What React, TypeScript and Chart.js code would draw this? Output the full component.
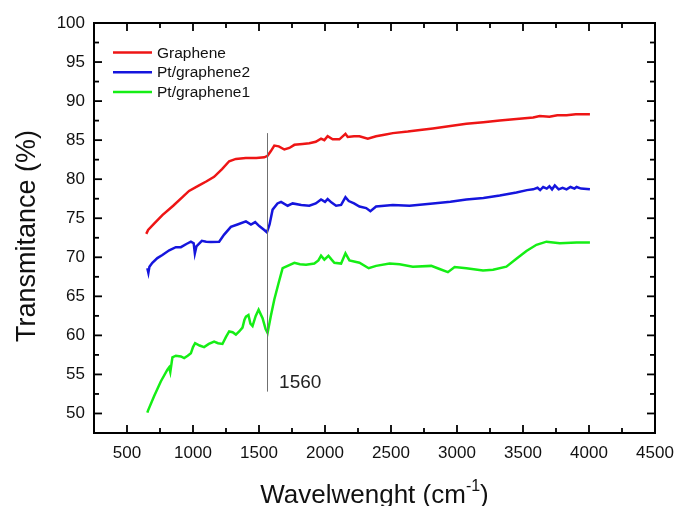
import React, { useEffect, useRef } from "react";
import { Chart, registerables } from "chart.js";

Chart.register(...registerables);

const FONT = '"Liberation Sans", Arial, sans-serif';

const SERIES_LABELS = ["Graphene", "Pt/graphene2", "Pt/graphene1"];
const SERIES_COLORS = ["#ee1515", "#1515dd", "#15ee15"];

const GRAPHENE_X = [646, 660, 700, 768, 850, 920, 970, 1046, 1100, 1160, 1220, 1274, 1325, 1400, 1480, 1540, 1565, 1590, 1616, 1650, 1692, 1730, 1768, 1830, 1881, 1930, 1970, 1995, 2020, 2058, 2109, 2155, 2172, 2220, 2261, 2324, 2387, 2450, 2514, 2627, 2720, 2817, 2950, 3071, 3200, 3324, 3450, 3577, 3627, 3700, 3760, 3830, 3900, 4007];
const GRAPHENE_Y = [73.0, 73.5, 74.2, 75.4, 76.6, 77.7, 78.5, 79.2, 79.7, 80.3, 81.3, 82.3, 82.6, 82.7, 82.7, 82.8, 83.0, 83.6, 84.3, 84.2, 83.8, 84.0, 84.4, 84.5, 84.6, 84.8, 85.2, 85.0, 85.5, 85.1, 85.1, 85.8, 85.4, 85.5, 85.5, 85.2, 85.5, 85.7, 85.9, 86.1, 86.3, 86.5, 86.8, 87.1, 87.3, 87.5, 87.7, 87.9, 88.1, 88.0, 88.2, 88.2, 88.3, 88.3];

const PT2_X = [654, 662, 670, 692, 730, 768, 820, 870, 908, 950, 984, 1005, 1014, 1026, 1067, 1100, 1135, 1198, 1236, 1287, 1337, 1401, 1439, 1471, 1502, 1540, 1560, 1580, 1603, 1640, 1667, 1717, 1755, 1820, 1881, 1930, 1970, 2000, 2020, 2050, 2084, 2122, 2155, 2180, 2220, 2261, 2312, 2344, 2387, 2450, 2514, 2640, 2817, 2950, 3071, 3200, 3324, 3450, 3530, 3577, 3610, 3630, 3653, 3680, 3700, 3720, 3741, 3770, 3800, 3830, 3860, 3890, 3906, 3940, 4007];
const PT2_Y = [68.6, 68.0, 68.8, 69.3, 69.9, 70.3, 70.9, 71.3, 71.3, 71.7, 72.0, 71.8, 70.5, 71.4, 72.1, 72.0, 71.95, 72.0, 72.9, 73.9, 74.2, 74.6, 74.2, 74.5, 74.0, 73.5, 73.2, 74.2, 76.1, 76.9, 77.1, 76.6, 76.9, 76.7, 76.6, 76.9, 77.4, 77.1, 77.45, 77.0, 76.6, 76.7, 77.7, 77.2, 76.9, 76.5, 76.3, 75.9, 76.5, 76.6, 76.7, 76.6, 76.9, 77.1, 77.4, 77.6, 77.9, 78.3, 78.6, 78.7, 78.9, 78.6, 79.0, 78.8, 79.1, 78.7, 79.2, 78.7, 78.9, 78.7, 79.0, 78.8, 79.0, 78.8, 78.7];

const PT1_X = [654, 660, 705, 756, 806, 819, 828, 844, 870, 908, 933, 960, 984, 1000, 1016, 1050, 1084, 1120, 1160, 1190, 1223, 1250, 1274, 1300, 1325, 1350, 1375, 1390, 1401, 1420, 1435, 1451, 1475, 1497, 1527, 1550, 1565, 1590, 1616, 1650, 1679, 1717, 1768, 1810, 1856, 1919, 1950, 1970, 1995, 2026, 2050, 2071, 2122, 2155, 2185, 2261, 2331, 2387, 2489, 2565, 2665, 2805, 2868, 2931, 2982, 3071, 3197, 3273, 3374, 3450, 3526, 3602, 3678, 3779, 3906, 4007];
const PT1_Y = [50.1, 50.4, 52.2, 54.1, 55.6, 55.9, 55.3, 57.2, 57.4, 57.3, 57.1, 57.4, 57.7, 58.5, 59.0, 58.7, 58.5, 58.9, 59.2, 59.0, 58.9, 59.8, 60.5, 60.4, 60.1, 60.5, 61.0, 62.0, 62.4, 62.6, 61.5, 61.2, 62.5, 63.3, 62.2, 60.8, 60.3, 62.5, 64.6, 66.8, 68.6, 68.9, 69.3, 69.1, 69.05, 69.2, 69.6, 70.2, 69.7, 70.2, 69.7, 69.3, 69.2, 70.5, 69.6, 69.3, 68.6, 68.9, 69.2, 69.1, 68.8, 68.9, 68.5, 68.1, 68.75, 68.6, 68.3, 68.4, 68.8, 69.8, 70.8, 71.6, 72.0, 71.8, 71.9, 71.9];

const X_MIN = 250;
const X_MAX = 4500;
const Y_MIN = 47.5;
const Y_MAX = 100;
const X_TICKS = [500, 1000, 1500, 2000, 2500, 3000, 3500, 4000, 4500];
const X_MINOR = [750, 1250, 1750, 2250, 2750, 3250, 3750, 4250];
const Y_TICKS = [50, 55, 60, 65, 70, 75, 80, 85, 90, 95, 100];
const Y_MINOR = [52.5, 57.5, 62.5, 67.5, 72.5, 77.5, 82.5, 87.5, 92.5, 97.5];

const MARKER_X = 1560;
const MARKER_Y_TOP = 85.9;
const MARKER_Y_BOTTOM = 52.8;
const MARKER_LABEL = "1560";
const MARKER_LABEL_X = 1652;
const MARKER_LABEL_Y = 53.3;

const X_TITLE = "Wavelwenght (cm";
const X_TITLE_SUP = "-1";
const X_TITLE_END = ")";
const Y_TITLE = "Transmitance (%)";

function toPoints(xs: number[], ys: number[]) {
  return xs.map((x, i) => ({ x, y: ys[i] }));
}

const decorPlugin = {
  id: "decor",
  afterDatasetsDraw(chart: any) {
    const { ctx, scales } = chart;
    const x = scales.x;
    const y = scales.y;
    ctx.save();
    ctx.strokeStyle = "#707070";
    ctx.lineWidth = 1;
    const mx = Math.round(x.getPixelForValue(MARKER_X)) + 0.5;
    ctx.beginPath();
    ctx.moveTo(mx, y.getPixelForValue(MARKER_Y_TOP));
    ctx.lineTo(mx, y.getPixelForValue(MARKER_Y_BOTTOM));
    ctx.stroke();
    ctx.fillStyle = "#222";
    ctx.font = `19px ${FONT}`;
    ctx.textAlign = "left";
    ctx.textBaseline = "alphabetic";
    ctx.fillText(MARKER_LABEL, x.getPixelForValue(MARKER_LABEL_X), y.getPixelForValue(MARKER_LABEL_Y));
    ctx.restore();
  },
  afterDraw(chart: any) {
    const { ctx, chartArea: a, scales } = chart;
    const x = scales.x;
    const y = scales.y;
    ctx.save();
    ctx.strokeStyle = "#000";
    ctx.lineWidth = 2;
    ctx.strokeRect(a.left, a.top, a.right - a.left, a.bottom - a.top);
    ctx.lineWidth = 1.8;
    const seg = (x1: number, y1: number, x2: number, y2: number) => {
      ctx.beginPath();
      ctx.moveTo(x1, y1);
      ctx.lineTo(x2, y2);
      ctx.stroke();
    };
    const MAJ = 8;
    const MIN = 5;
    X_TICKS.forEach((v) => {
      const p = x.getPixelForValue(v);
      seg(p, a.bottom, p, a.bottom - MAJ);
      seg(p, a.top, p, a.top + MAJ);
    });
    X_MINOR.forEach((v) => {
      const p = x.getPixelForValue(v);
      seg(p, a.bottom, p, a.bottom - MIN);
      seg(p, a.top, p, a.top + MIN);
    });
    Y_TICKS.forEach((v) => {
      const p = y.getPixelForValue(v);
      seg(a.left, p, a.left + MAJ, p);
      seg(a.right, p, a.right - MAJ, p);
    });
    Y_MINOR.forEach((v) => {
      const p = y.getPixelForValue(v);
      seg(a.left, p, a.left + MIN, p);
      seg(a.right, p, a.right - MIN, p);
    });

    ctx.font = `15.5px ${FONT}`;
    ctx.textBaseline = "middle";
    ctx.textAlign = "left";
    chart.data.datasets.forEach((ds: any, i: number) => {
      const ry = a.top + 29.5 + i * 19.7;
      ctx.strokeStyle = ds.borderColor;
      ctx.lineWidth = 2.5;
      seg(a.left + 19, ry, a.left + 58, ry);
      ctx.fillStyle = "#111";
      ctx.fillText(ds.label, a.left + 63, ry + 1);
    });

    ctx.fillStyle = "#111";
    ctx.textBaseline = "alphabetic";
    const mainFont = `26px ${FONT}`;
    const supFont = `16px ${FONT}`;
    ctx.font = mainFont;
    const w1 = ctx.measureText(X_TITLE).width;
    const w3 = ctx.measureText(X_TITLE_END).width;
    ctx.font = supFont;
    const w2 = ctx.measureText(X_TITLE_SUP).width;
    const total = w1 + w2 + w3;
    const cx = (a.left + a.right) / 2;
    const by = chart.height - 3;
    let sx = cx - total / 2;
    ctx.font = mainFont;
    ctx.textAlign = "left";
    ctx.fillText(X_TITLE, sx, by);
    sx += w1;
    ctx.font = supFont;
    ctx.fillText(X_TITLE_SUP, sx, by - 12);
    sx += w2;
    ctx.font = mainFont;
    ctx.fillText(X_TITLE_END, sx, by);

    ctx.save();
    ctx.translate(35, (a.top + a.bottom) / 2 + 8);
    ctx.rotate(-Math.PI / 2);
    ctx.font = `27px ${FONT}`;
    ctx.textAlign = "center";
    ctx.textBaseline = "alphabetic";
    ctx.fillText(Y_TITLE, 0, 0);
    ctx.restore();

    ctx.restore();
  },
};

export default function App() {
  const ref = useRef<HTMLCanvasElement | null>(null);

  useEffect(() => {
    document.body.style.margin = "0";
    const canvas = ref.current;
    if (!canvas) return;
    const seriesX = [GRAPHENE_X, PT2_X, PT1_X];
    const seriesY = [GRAPHENE_Y, PT2_Y, PT1_Y];
    const chart = new Chart(canvas, {
      type: "line",
      data: {
        datasets: SERIES_LABELS.map((label, i) => ({
          label,
          data: toPoints(seriesX[i], seriesY[i]),
          borderColor: SERIES_COLORS[i],
          backgroundColor: SERIES_COLORS[i],
          borderWidth: 2.5,
          pointRadius: 0,
          tension: 0,
          fill: false,
        })),
      },
      options: {
        animation: false,
        responsive: false,
        maintainAspectRatio: false,
        devicePixelRatio: 1,
        layout: { padding: { top: 23, right: 21, left: 0, bottom: 0 } },
        plugins: {
          legend: { display: false },
          tooltip: { enabled: false },
          title: { display: false },
        },
        scales: {
          x: {
            type: "linear",
            min: X_MIN,
            max: X_MAX,
            grid: { display: false, drawTicks: false },
            border: { display: false },
            afterBuildTicks: (s: any) => {
              s.ticks = X_TICKS.map((v) => ({ value: v }));
            },
            afterFit: (s: any) => {
              s.height = 73;
              s.paddingLeft = 0;
              s.paddingRight = 0;
            },
            ticks: {
              padding: 10,
              maxRotation: 0,
              autoSkip: false,
              color: "#111",
              font: { family: FONT, size: 17 },
              callback: (v: any) => String(v),
            },
          },
          y: {
            type: "linear",
            min: Y_MIN,
            max: Y_MAX,
            grid: { display: false, drawTicks: false },
            border: { display: false },
            afterBuildTicks: (s: any) => {
              s.ticks = Y_TICKS.map((v) => ({ value: v }));
            },
            afterFit: (s: any) => {
              s.width = 94;
              s.paddingTop = 0;
              s.paddingBottom = 0;
            },
            ticks: {
              padding: 9,
              autoSkip: false,
              color: "#111",
              font: { family: FONT, size: 17 },
              callback: (v: any) => String(v),
            },
          },
        },
      },
      plugins: [decorPlugin],
    });
    return () => chart.destroy();
  }, []);

  return (
    <div style={{ width: 676, height: 506, background: "#fff" }}>
      <canvas ref={ref} width={676} height={506} style={{ display: "block" }} />
    </div>
  );
}
